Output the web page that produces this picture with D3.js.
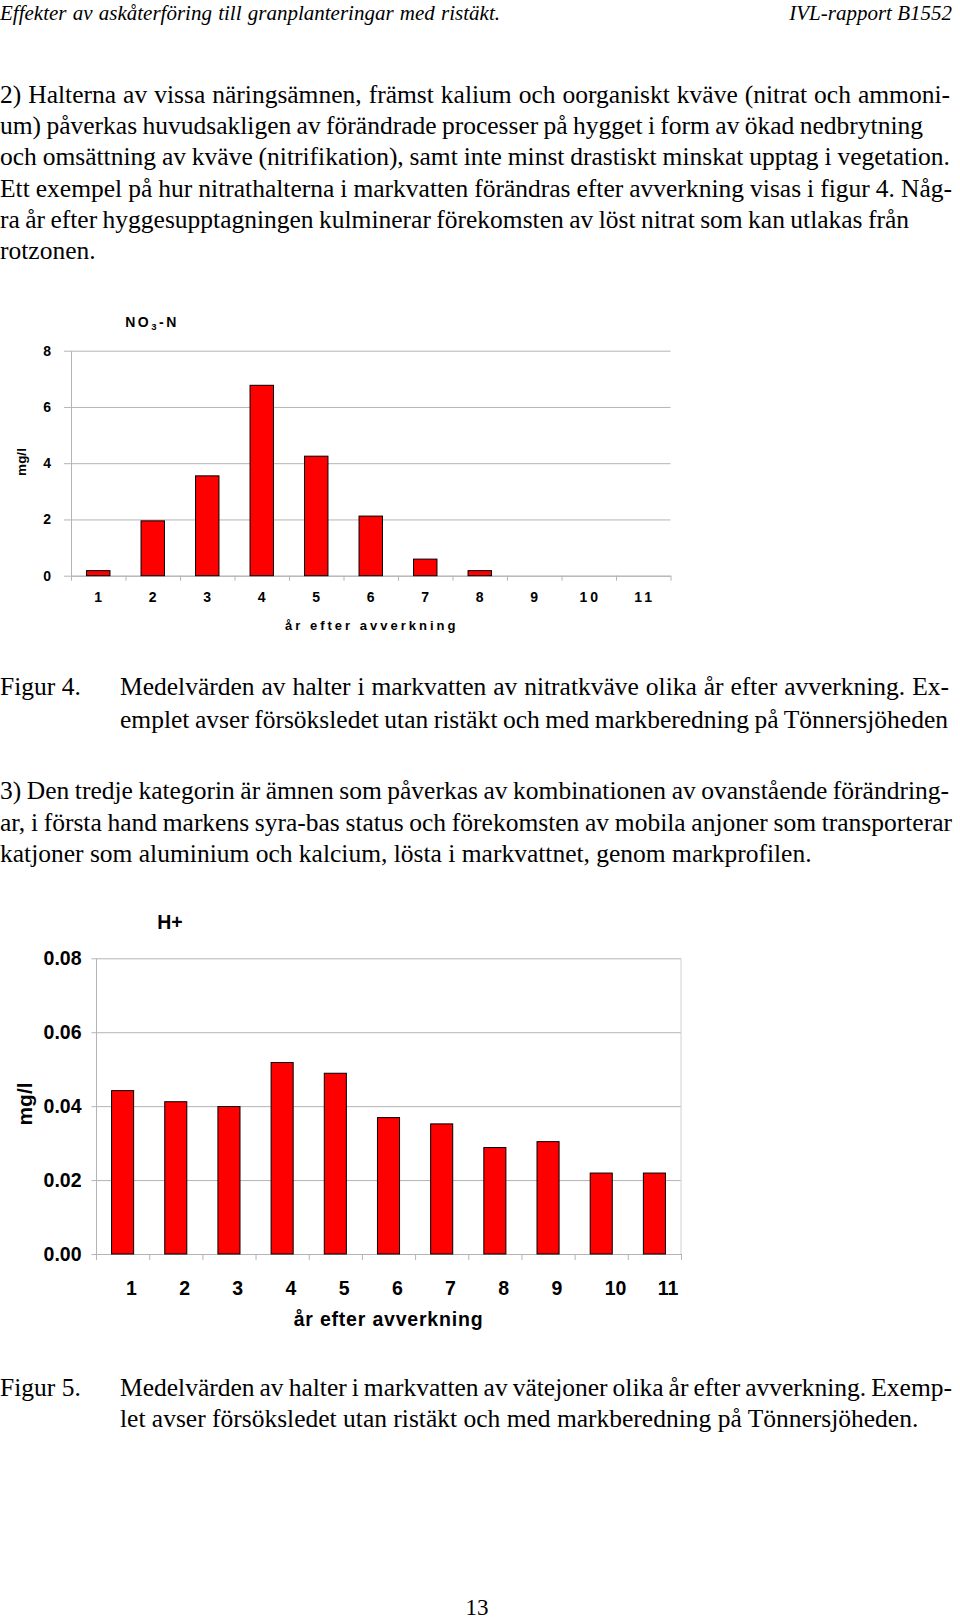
<!DOCTYPE html>
<html>
<head>
<meta charset="utf-8">
<script src="https://cdn.jsdelivr.net/npm/d3@7"></script>
<style>
  html, body { margin: 0; padding: 0; background: #fff; }
  svg { display: block; }
</style>
</head>
<body>
<script>
// ---------------- DATA ----------------
const years = ["1", "2", "3", "4", "5", "6", "7", "8", "9", "10", "11"];
const no3Values = [0.18, 1.95, 3.55, 6.77, 4.25, 2.12, 0.59, 0.18, 0, 0, 0];
const no3Ticks = [0, 2, 4, 6, 8];
const hValues = [0.0442, 0.0412, 0.0399, 0.0518, 0.0489, 0.0369, 0.0352, 0.0288, 0.0304, 0.0219, 0.0219];
const hTicks = [0, 0.02, 0.04, 0.06, 0.08];

const headerLeft = "Effekter av askåterföring till granplanteringar med ristäkt.";
const headerRight = "IVL-rapport B1552";
const para2 = [
  "2) Halterna av vissa näringsämnen, främst kalium och oorganiskt kväve (nitrat och ammoni-",
  "um) påverkas huvudsakligen av förändrade processer på hygget i form av ökad nedbrytning",
  "och omsättning av kväve (nitrifikation), samt inte minst drastiskt minskat upptag i vegetation.",
  "Ett exempel på hur nitrathalterna i markvatten förändras efter avverkning visas i figur 4. Någ-",
  "ra år efter hyggesupptagningen kulminerar förekomsten av löst nitrat som kan utlakas från",
  "rotzonen."
];
const caption4Label = "Figur 4.";
const caption4 = [
  "Medelvärden av halter i markvatten av nitratkväve olika år efter avverkning. Ex-",
  "emplet avser försöksledet utan ristäkt och med markberedning på Tönnersjöheden"
];
const para3 = [
  "3) Den tredje kategorin är ämnen som påverkas av kombinationen av ovanstående förändring-",
  "ar, i första hand markens syra-bas status och förekomsten av mobila anjoner som transporterar",
  "katjoner som aluminium och kalcium, lösta i markvattnet, genom markprofilen."
];
const caption5Label = "Figur 5.";
const caption5 = [
  "Medelvärden av halter i markvatten av vätejoner olika år efter avverkning. Exemp-",
  "let avser försöksledet utan ristäkt och med markberedning på Tönnersjöheden."
];
const xTitle = "år efter avverkning";
const yTitle = "mg/l";

// ---------------- PAGE ----------------
const W = 960, H = 1620;
const serif = "'Liberation Serif', 'Times New Roman', serif";
const sans = "'Liberation Sans', Arial, sans-serif";
const bodySize = 25.5;

const svg = d3.select("body").append("svg")
  .attr("width", W).attr("height", H)
  .attr("viewBox", `0 0 ${W} ${H}`);
svg.append("rect").attr("width", W).attr("height", H).attr("fill", "#fff");

function line(g, text, x, y, endX, size, extra) {
  const t = g.append("text")
    .attr("x", x).attr("y", y)
    .attr("font-family", serif)
    .attr("font-size", size)
    .attr("fill", "#000")
    .text(text);
  if (extra) extra(t);
  if (endX) {
    const n = t.node().getComputedTextLength();
    const spaces = (text.match(/ /g) || []).length;
    if (spaces > 0) t.attr("word-spacing", ((endX - x) - n) / spaces);
  }
  return t;
}

const txt = svg.append("g");
// header
line(txt, headerLeft, 0, 20, 500, 21, t => t.attr("font-style", "italic"));
line(txt, headerRight, 952, 20, null, 21, t => t.attr("font-style", "italic").attr("text-anchor", "end"));

// paragraph 2
const p2Base = [103, 134, 165, 197, 228, 259];
const p2End = [950, 923, 950, 952, 909, null];
para2.forEach((s, i) => line(txt, s, 0, p2Base[i], p2End[i], bodySize));

// caption 4
line(txt, caption4Label, 0, 695, null, bodySize);
const c4Base = [695, 728];
const c4End = [949, 948];
caption4.forEach((s, i) => line(txt, s, 120, c4Base[i], c4End[i], bodySize));

// paragraph 3
const p3Base = [799, 831, 862];
const p3End = [949, 952, null];
para3.forEach((s, i) => line(txt, s, 0, p3Base[i], p3End[i], bodySize));

// caption 5
line(txt, caption5Label, 0, 1396, null, bodySize);
const c5Base = [1396, 1427];
const c5End = [952, null];
caption5.forEach((s, i) => line(txt, s, 120, c5Base[i], c5End[i], bodySize));

// page number
line(txt, "13", 477, 1615, null, 23, t => t.attr("text-anchor", "middle"));

// ---------------- CHART 1 : NO3-N ----------------
(function () {
  const left = 71, right = 670.5, top = 350.7, bottom = 575.7;
  const g = svg.append("g");
  const x = d3.scaleBand().domain(years).range([left, right]).paddingInner(0.57).paddingOuter(0.285);
  const xb = d3.scaleLinear().domain([0, years.length]).range([left, right]);
  const y = d3.scaleLinear().domain([0, 8]).range([bottom, top]);
  const gridColor = "#b4b4b4";

  // gridlines
  const grid = g.append("g").attr("transform", `translate(${left},0)`)
    .call(d3.axisLeft(y).tickValues(no3Ticks).tickSize(-(right - left)).tickFormat(""));
  grid.select(".domain").remove();
  grid.selectAll("line").attr("stroke", gridColor).attr("stroke-width", 1);

  // y axis
  const ya = g.append("g").attr("transform", `translate(${left},0)`)
    .call(d3.axisLeft(y).tickValues(no3Ticks).tickSize(7).tickPadding(13).tickSizeOuter(0));
  ya.select(".domain").attr("stroke", gridColor);
  ya.selectAll("line").attr("stroke", gridColor);
  ya.selectAll("text").attr("font-family", sans).attr("font-size", 14).attr("font-weight", "bold").attr("fill", "#000");

  // x axis line & boundary ticks
  const xa = g.append("g").attr("transform", `translate(0,${bottom})`)
    .call(d3.axisBottom(xb).tickValues(d3.range(years.length + 1)).tickSize(5).tickSizeOuter(0).tickFormat(""));
  xa.select(".domain").attr("stroke", gridColor);
  xa.selectAll("line").attr("stroke", gridColor);

  // bars
  g.selectAll("rect.bar").data(no3Values).enter().append("rect")
    .attr("class", "bar")
    .attr("x", (d, i) => x(years[i]))
    .attr("width", x.bandwidth())
    .attr("y", d => y(d))
    .attr("height", d => y(0) - y(d))
    .attr("fill", "#ff0000")
    .attr("stroke", d => d > 0 ? "#000" : "none")
    .attr("stroke-width", 1);

  // x labels
  const xl = g.append("g").attr("transform", `translate(0,${bottom})`)
    .call(d3.axisBottom(x).tickSize(0).tickPadding(16));
  xl.select(".domain").remove();
  xl.selectAll("text").attr("font-family", sans).attr("font-size", 14).attr("font-weight", "bold")
    .attr("letter-spacing", 3).attr("dx", 1.5).attr("fill", "#000");

  // titles
  const t = g.append("text").attr("x", 152).attr("y", 327).attr("text-anchor", "middle")
    .attr("font-family", sans).attr("font-size", 14).attr("font-weight", "bold").attr("letter-spacing", 2.5);
  t.append("tspan").text("NO");
  t.append("tspan").attr("font-size", 9.5).attr("dy", 3).text("3");
  t.append("tspan").attr("dy", -3).text("-N");

  g.append("text").attr("x", (left + right) / 2 + 1).attr("y", 630).attr("text-anchor", "middle")
    .attr("font-family", sans).attr("font-size", 13).attr("font-weight", "bold").attr("letter-spacing", 3)
    .text(xTitle);

  g.append("text").attr("transform", `translate(26,462) rotate(-90)`).attr("text-anchor", "middle")
    .attr("font-family", sans).attr("font-size", 13.5).attr("font-weight", "bold")
    .text(yTitle);
})();

// ---------------- CHART 2 : H+ ----------------
(function () {
  const left = 96, right = 681, top = 958.3, bottom = 1254;
  const g = svg.append("g");
  const x = d3.scaleBand().domain(years).range([left, right]).paddingInner(0.585).paddingOuter(0.2925);
  const xb = d3.scaleLinear().domain([0, years.length]).range([left, right]);
  const y = d3.scaleLinear().domain([0, 0.08]).range([bottom, top]);
  const gridColor = "#b4b4b4";

  const grid = g.append("g").attr("transform", `translate(${left},0)`)
    .call(d3.axisLeft(y).tickValues(hTicks).tickSize(-(right - left)).tickFormat(""));
  grid.select(".domain").remove();
  grid.selectAll("line").attr("stroke", gridColor);

  // right border
  g.append("line").attr("x1", right).attr("x2", right).attr("y1", y(0.08)).attr("y2", y(0))
    .attr("stroke", "#d0d0d0");

  const ya = g.append("g").attr("transform", `translate(${left},0)`)
    .call(d3.axisLeft(y).tickValues(hTicks).tickSize(4.5).tickPadding(10).tickSizeOuter(0).tickFormat(d3.format(".2f")));
  ya.select(".domain").attr("stroke", gridColor);
  ya.selectAll("line").attr("stroke", gridColor);
  ya.selectAll("text").attr("font-family", sans).attr("font-size", 19.5).attr("font-weight", "bold").attr("fill", "#000");

  const xa = g.append("g").attr("transform", `translate(0,${bottom})`)
    .call(d3.axisBottom(xb).tickValues(d3.range(years.length + 1)).tickSize(6).tickSizeOuter(0).tickFormat(""));
  xa.select(".domain").attr("stroke", gridColor);
  xa.selectAll("line").attr("stroke", gridColor);

  g.selectAll("rect.bar").data(hValues).enter().append("rect")
    .attr("class", "bar")
    .attr("x", (d, i) => x(years[i]))
    .attr("width", x.bandwidth())
    .attr("y", d => y(d))
    .attr("height", d => y(0) - y(d))
    .attr("fill", "#ff0000")
    .attr("stroke", "#000")
    .attr("stroke-width", 1);

  // x labels, left-aligned a bit right of band centre as in the original
  g.selectAll("text.xl").data(years).enter().append("text")
    .attr("class", "xl")
    .attr("x", d => xb(years.indexOf(d)) + 30)
    .attr("y", 1295)
    .attr("font-family", sans).attr("font-size", 19.5).attr("font-weight", "bold")
    .text(d => d);

  g.append("text").attr("x", 170).attr("y", 929).attr("text-anchor", "middle")
    .attr("font-family", sans).attr("font-size", 19.5).attr("font-weight", "bold").text("H+");

  g.append("text").attr("x", (left + right) / 2).attr("y", 1326).attr("text-anchor", "middle")
    .attr("font-family", sans).attr("font-size", 19.5).attr("font-weight", "bold").attr("letter-spacing", 0.8)
    .text(xTitle);

  g.append("text").attr("transform", `translate(32,1104) rotate(-90)`).attr("text-anchor", "middle")
    .attr("font-family", sans).attr("font-size", 21).attr("font-weight", "bold")
    .text(yTitle);
})();
</script>
</body>
</html>
